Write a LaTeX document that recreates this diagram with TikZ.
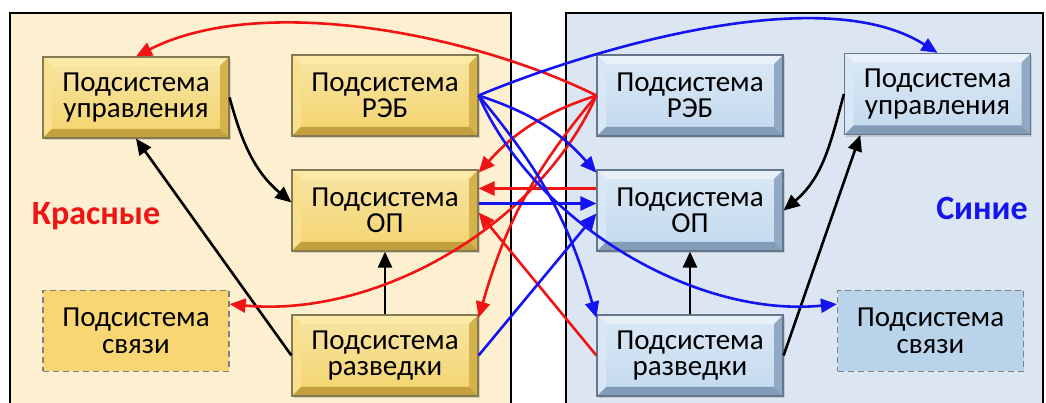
\documentclass[tikz,border=0pt]{standalone}
\usepackage{fontspec}
\setmainfont{Carlito}
\usetikzlibrary{arrows.meta,calc,shadows}

% panel and box colours
\definecolor{redpanel}{HTML}{FDF0D0}
\definecolor{bluepanel}{HTML}{DCE6F2}
\definecolor{goldF}{HTML}{F3D46C}
\definecolor{goldT}{HTML}{FBEBA6}
\definecolor{goldL}{HTML}{F8E08E}
\definecolor{goldR}{HTML}{D6B24A}
\definecolor{goldB}{HTML}{C49F3E}
\definecolor{goldE}{HTML}{857A52}
\definecolor{blueF}{HTML}{C3D9EE}
\definecolor{blueT}{HTML}{E8F1FA}
\definecolor{blueL}{HTML}{D8E7F5}
\definecolor{blueR}{HTML}{90A9C4}
\definecolor{blueB}{HTML}{829BB6}
\definecolor{blueE}{HTML}{66768A}
\definecolor{linkgold}{HTML}{F8D674}
\definecolor{linkblue}{HTML}{B9D3EB}
\definecolor{arrred}{HTML}{F01414}
\definecolor{arrblue}{HTML}{1414F0}

\tikzset{
  box/.style={minimum width=186pt, minimum height=81pt, inner sep=0pt,
    align=center, font=\fontsize{29}{26.5}\selectfont},
  bevelbox/.style={box, draw=#1E, line width=1.2pt,
    drop shadow={shadow xshift=1.5pt, shadow yshift=-2.5pt, opacity=0.3},
    path picture={
      \coordinate (pa) at (path picture bounding box.south west);
      \coordinate (pb) at (path picture bounding box.north east);
      \coordinate (pc) at (pa|-pb);
      \coordinate (pd) at (pb|-pa);
      \coordinate (ia) at ([shift={(9pt,9pt)}]pa);
      \coordinate (ib) at ([shift={(-9pt,-9pt)}]pb);
      \coordinate (ic) at (ia|-ib);
      \coordinate (id) at (ib|-ia);
      \shade[top color=#1F!60!white, bottom color=#1F] (pa) rectangle (pb);
      \fill[#1T] (pc) -- (pb) -- (ib) -- (ic) -- cycle;
      \fill[#1L] (pa) -- (pc) -- (ic) -- (ia) -- cycle;
      \fill[#1R] (pd) -- (pb) -- (ib) -- (id) -- cycle;
      \fill[#1B] (pa) -- (pd) -- (id) -- (ia) -- cycle;
    }},
  linkbox/.style={box, fill=#1, draw=black!50, line width=1.2pt,
    dash pattern=on 6pt off 4pt},
  panel/.style={draw=black, line width=2.2pt, fill=#1},
  arr/.style={line width=2.6pt, -{Triangle[length=16pt,width=14pt]}},
  redarr/.style={arr, color=arrred},
  bluearr/.style={arr, color=arrblue},
  blackarr/.style={arr, color=black},
  sidelabel/.style={font=\fontsize{34}{34}\selectfont\bfseries},
}

\begin{document}
\begin{tikzpicture}[x=1pt,y=1pt]
\useasboundingbox (0,0) rectangle (1046,403);

% the two sides
\draw[panel=redpanel] (10,-10) rectangle (511,390);
\draw[panel=bluepanel] (566,-10) rectangle (1043,390);

% red side subsystems
\node[bevelbox=gold] (uprL) at (136,305.5) {Подсистема\\управления};
\node[bevelbox=gold] (rebL) at (385,307.5) {Подсистема\\РЭБ};
\node[bevelbox=gold] (opL)  at (385,192.5) {Подсистема\\ОП};
\node[linkbox=linkgold] (svL) at (136,72) {Подсистема\\связи};
\node[bevelbox=gold] (razL) at (385,47.5) {Подсистема\\разведки};

% blue side subsystems
\node[bevelbox=blue] (rebR) at (690,307.5) {Подсистема\\РЭБ};
\node[bevelbox=blue] (uprR) at (937.5,309) {Подсистема\\управления};
\node[bevelbox=blue] (opR)  at (690,192.5) {Подсистема\\ОП};
\node[linkbox=linkblue] (svR) at (930.5,72) {Подсистема\\связи};
\node[bevelbox=blue] (razR) at (690,47.5) {Подсистема\\разведки};

% side names
\node[sidelabel, text=arrred] (redname) at (96,187) {Красные};
\node[sidelabel, text=arrblue] (bluename) at (982,195) {Синие};

% internal links, red side
\draw[blackarr] (uprL.east) to[out=-75,in=140] ([yshift=8pt]opL.west);
\draw[blackarr] (razL.west) -- (uprL.south);
\draw[blackarr] (razL.north) -- (opL.south);

% internal links, blue side
\draw[blackarr] (uprR.west) to[out=-105,in=40] (opR.east);
\draw[blackarr] (razR.east) -- (uprR.208);
\draw[blackarr] (razR.north) -- (opR.south);

% red actions against the blue side
\draw[redarr] (rebR.west) .. controls (470,370) and (260,410) .. (uprL.north);
\draw[redarr] (rebR.west) to[bend right=15] (opL.22);
\draw[redarr] (rebR.west) to[bend right=12] (razL.22);
\draw[redarr] (rebR.west) .. controls (540,180) and (380,85) .. (svL.16);
\draw[redarr] ([yshift=22pt]opR.west) -- ([yshift=22pt]opL.east);
\draw[redarr] (razR.west) -- ([yshift=-2pt]opL.east);

% blue actions against the red side
\draw[bluearr] (rebL.east) .. controls (580,350) and (820,425) .. (uprR.north);
\draw[bluearr] (rebL.east) to[bend left=15] (opR.158);
\draw[bluearr] (rebL.east) to[bend left=12] (razR.158);
\draw[bluearr] (rebL.east) .. controls (535,180) and (695,85) .. (svR.164);
\draw[bluearr] ([yshift=7pt]opL.east) -- ([yshift=7pt]opR.west);
\draw[bluearr] (razL.east) -- ([yshift=-3pt]opR.west);
\end{tikzpicture}
\end{document}
